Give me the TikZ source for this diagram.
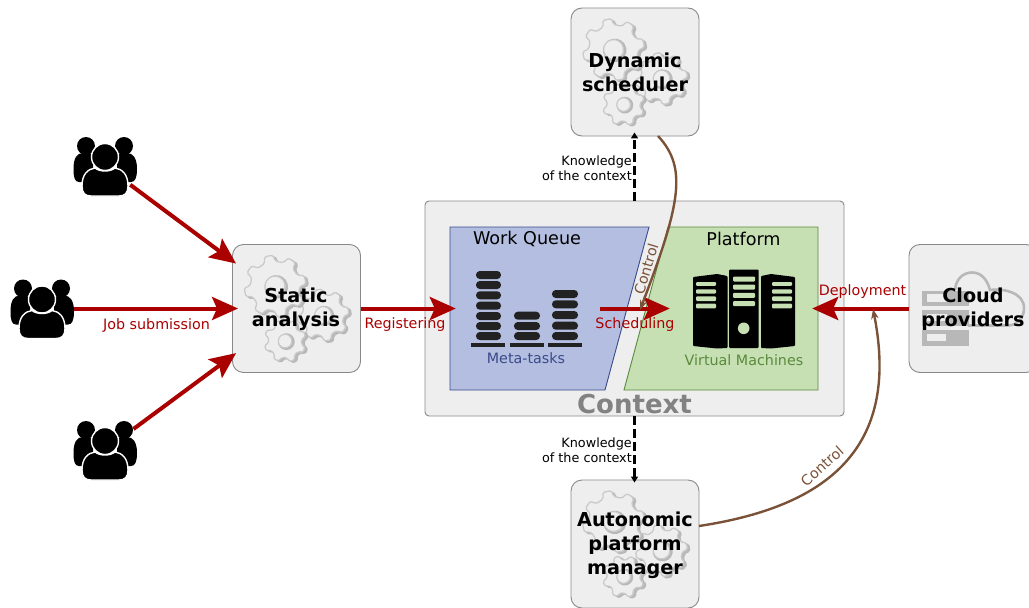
\documentclass[tikz,border=0pt]{standalone}
\usepackage{fontspec}
\setmainfont{DejaVu Sans}
\usetikzlibrary{arrows.meta}
\definecolor{boxfill}{HTML}{EEEEEE}
\definecolor{boxline}{HTML}{888888}
\definecolor{redarrow}{HTML}{AA0000}
\definecolor{brownarrow}{HTML}{7A5238}
\definecolor{wqfill}{HTML}{B4BEE0}
\definecolor{wqline}{HTML}{3A4A8A}
\definecolor{plfill}{HTML}{C6E0B4}
\definecolor{plline}{HTML}{5A8A3C}
\definecolor{geara}{HTML}{CACACA}
\definecolor{gearb}{HTML}{B8B8B8}
\definecolor{bar}{HTML}{222222}
\newcommand{\gearfig}[5]{%
  \begin{scope}[shift={(#1,#2)},rotate=#5,rounded corners=1.5pt]
    \foreach \off/\fc/\dc in {2/gearb/gearb,0/boxfill/geara}{
      \draw[draw=\dc,fill=\fc,line width=1.3pt,shift={(\off,\off)}]
        ({-0.3*360/#4}:#3*0.8)
        \foreach \i in {1,...,#4}{
          -- ({(\i-1-0.3)*360/#4}:#3*0.8)
          -- ({(\i-1-0.17)*360/#4}:#3)
          -- ({(\i-1+0.17)*360/#4}:#3)
          -- ({(\i-1+0.3)*360/#4}:#3*0.8)
        } -- cycle;
    }
    \draw[gearb,line width=2.4pt] (1,1) circle ({#3*0.34});
    \draw[geara,line width=1.1pt,fill=boxfill] (0,0) circle ({#3*0.32});
  \end{scope}}
\tikzset{
  box/.style={draw=boxline,fill=boxfill,rounded corners=11pt,line width=0.9pt,minimum width=128,minimum height=128,inner sep=0pt},
  boxlabel/.style={font=\bfseries\fontsize{19.2}{24}\selectfont,align=center,inner sep=0pt},
  users/.style={minimum width=63,minimum height=60,inner sep=0pt},
  redlink/.style={draw=redarrow,line width=4pt,-{Stealth[length=26pt,width=23pt,inset=5pt]}},
  dashlink/.style={draw=black,line width=2.2pt,dash pattern=on 9pt off 4pt,-{Stealth[length=6pt,width=7pt,inset=0pt]}},
  brownlink/.style={draw=brownarrow,line width=2.4pt,-{Stealth[length=10pt,width=7.5pt]}},
  redlabel/.style={text=redarrow,font=\fontsize{14.3}{16}\selectfont,inner sep=0pt},
  brownlabel/.style={text=brownarrow,font=\fontsize{14.3}{16}\selectfont,inner sep=0pt},
  know/.style={font=\fontsize{12.8}{15.5}\selectfont,align=right,anchor=east,inner sep=0pt},
  zone/.style={font=\fontsize{17.6}{20}\selectfont,inner sep=0pt},
  pile/.style={fill=bar,rounded corners=3.8pt},
  gearset/.pic={
    \gearfig{91}{71}{26}{8}{10}
    \gearfig{53}{97}{21}{8}{20}
    \gearfig{43}{42}{31}{8}{12}
  },
  people/.pic={
    \fill (-19,-20) circle (9);
    \fill (19,-20) circle (9);
    \fill (-31.5,3) .. controls (-31.5,-8) and (-28,-13) .. (-22,-13) -- (-12,-12) -- (-12,16) -- (-26,16) .. controls (-30,16) and (-31.5,12) .. cycle;
    \fill (32,3) .. controls (32,-8) and (28,-13) .. (22,-13) -- (12,-12) -- (12,16) -- (26,16) .. controls (30,16) and (32,12) .. cycle;
    \draw[white,fill=black,line width=1.4pt] (0,-9) circle (13.5);
    \draw[white,fill=black,line width=1.4pt] (-23,20) .. controls (-23,8) and (-17,3) .. (-10,2) .. controls (-5,6) and (5,6) .. (10,2) .. controls (17,3) and (23,8) .. (23,20) .. controls (23,27) and (20,30) .. (14,30) -- (-14,30) .. controls (-20,30) and (-23,27) .. cycle;
  }
}
\begin{document}
\begin{tikzpicture}[x=1pt,y=-1pt]
\useasboundingbox (0,0) rectangle (1029,608);
\clip (0,0) rectangle (1029,608);
% context
\node[draw=boxline,fill=boxfill,rounded corners=4pt,line width=0.9pt,minimum width=419,minimum height=215,inner sep=0pt] (ctx) at (634.5,308.5) {};
\fill[wqfill,draw=wqline,line width=0.9pt] (450,227) -- (649,227) -- (605,390) -- (450,390) -- cycle;
\fill[plfill,draw=plline,line width=0.9pt] (668,227) -- (818,227) -- (818,390) -- (624,390) -- cycle;
\node[minimum width=150,minimum height=163,inner sep=0pt] (wq) at (525,308.5) {};
\node[minimum width=148,minimum height=163,inner sep=0pt] (plat) at (744,308.5) {};
\node[zone] (wqt) at (527,239) {Work Queue};
\node[zone] (plt) at (743.5,239) {Platform};
\node[text=wqline,font=\fontsize{14.3}{16}\selectfont,inner sep=0pt] (mt) at (526,358) {Meta-tasks};
\node[text=plline,font=\fontsize{14.3}{16}\selectfont,inner sep=0pt] (vm) at (744,360) {Virtual Machines};
\node[text=gray!98,font=\bfseries\fontsize{26}{30}\selectfont,inner sep=0pt] (ctxl) at (634.5,404.5) {Context};
% stacks
\foreach \y in {275,285,295.3,305.7,316,326,336} \fill[pile] (476,\y-4) rectangle (501,\y+4);
\foreach \y in {315.7,326,336} \fill[pile] (514,\y-4) rectangle (540,\y+4);
\foreach \y in {294,304.3,315,325.7,336} \fill[pile] (552,\y-4) rectangle (578,\y+4);
\fill[bar] (471,343) rectangle (505,347);
\fill[bar] (510,343) rectangle (544,347);
\fill[bar] (548,343) rectangle (582,347);
% servers
\fill[rounded corners=1pt] (729,269.5) rectangle (758.5,348);
\fill[rounded corners=1pt] (693,277) -- (717,274) -- (727.5,276) -- (727.5,348) -- (717,348.5) -- (693,346) -- cycle;
\fill[rounded corners=1pt] (795,277) -- (771,274) -- (761,276) -- (761,348) -- (771,348.5) -- (795,346) -- cycle;
\foreach \y in {279,287,295.3,303.7} \fill[plfill,rounded corners=1pt] (733,\y-2.5) rectangle (755,\y+2.5);
\foreach \y/\d in {283.7/0.6,291.3/0.3,298.7/0,306/0} {
  \fill[plfill,rounded corners=1pt] (696,\y-2.3+\d) rectangle (716,\y+2.3-\d*0.3);
  \fill[plfill,rounded corners=1pt] (772,\y-2.3+\d) rectangle (792,\y+2.3-\d*0.3);
}
\fill[plfill] (743.7,328.3) circle (5.8);
% boxes
\node[box] (static) at (296.5,308.5) {};
\node[box] (dyn) at (635,72) {};
\node[box] (apm) at (635,544) {};
\node[box] (cloud) at (973,308.5) {};
\pic at (static.north west) {gearset};
\pic at (dyn.north west) {gearset};
\pic at (apm.north west) {gearset};
% cloud icon
\draw[gearb,line width=2.6pt] (955,290) .. controls (956,278) and (964,272.5) .. (972,272.5) .. controls (981,272.5) and (987,279) .. (990,290) .. controls (1002,288) and (1024,292) .. (1024,308) .. controls (1024,318) and (1018,325) .. (1008,325.5) -- (968,325.5);
\fill[gearb] (922,290.5) rectangle (969,306);
\fill[boxfill] (926.7,294) rectangle (947,302);
\fill[gearb] (922,310) rectangle (969,326);
\fill[boxfill] (926.7,313.5) rectangle (947,321);
\fill[gearb] (922,329.5) rectangle (969,345.5);
\fill[boxfill] (926.7,334) rectangle (946,340.5);
% box labels
\node[boxlabel] (staticl) at (296,308.8) {Static\\analysis};
\node[boxlabel] (dynl) at (635,72.7) {Dynamic\\scheduler};
\node[boxlabel] (apml) at (635,545) {Autonomic\\platform\\manager};
\node[boxlabel] (cloudl) at (973,308.8) {Cloud\\providers};
% users
\node[users] (u1) at (105,166) {};
\node[users] (u2) at (42,308.5) {};
\node[users] (u3) at (105,450) {};
\pic at (u1) {people};
\pic at (u2) {people};
\pic at (u3) {people};
% red connectors
\draw[redlink,shorten <=-8pt,shorten >=-5pt] (u1) -- (static);
\draw[redlink,shorten >=-6pt] (u2) -- (static);
\draw[redlink,shorten <=-4pt,shorten >=-5pt] (u3) -- (static);
\draw[redlink,shorten >=-6pt] (static.east) -- (wq.west);
\draw[redlink] (wq.east) -- (plat.west);
\draw[redlink,shorten >=-6pt] (cloud.west) -- (plat.east);
% dashed
\draw[dashlink,shorten >=-4pt] (ctx.north) -- (ctx.north |- dyn.south);
\draw[dashlink,shorten >=-3pt] (ctx.south) -- (ctx.south |- apm.north);
% brown
\coordinate (dynout) at (658,136);
\coordinate (apmout) at (699,526);
\coordinate (schedtip) at (640,310);
\coordinate (deptip) at (873,309);
\draw[brownlink] (dynout) .. controls (688,168) and (680,205) .. (schedtip);
\draw[brownlink] (apmout) .. controls (825,507) and (901,450) .. (deptip);
% labels
\node[redlabel] (l1) at (156.5,325) {Job submission};
\node[redlabel] (l2) at (405,325) {Registering};
\node[redlabel] (l3) at (635,325) {Scheduling};
\node[redlabel] (l4) at (862.5,292) {Deployment};
\node[brownlabel,rotate=73] (c1) at (646,269) {Control};
\node[brownlabel,rotate=42] (c2) at (822,466) {Control};
\node[know] (k1) at (632,168) {Knowledge\\of the context};
\node[know] (k2) at (632,450) {Knowledge\\of the context};
\end{tikzpicture}
\end{document}
